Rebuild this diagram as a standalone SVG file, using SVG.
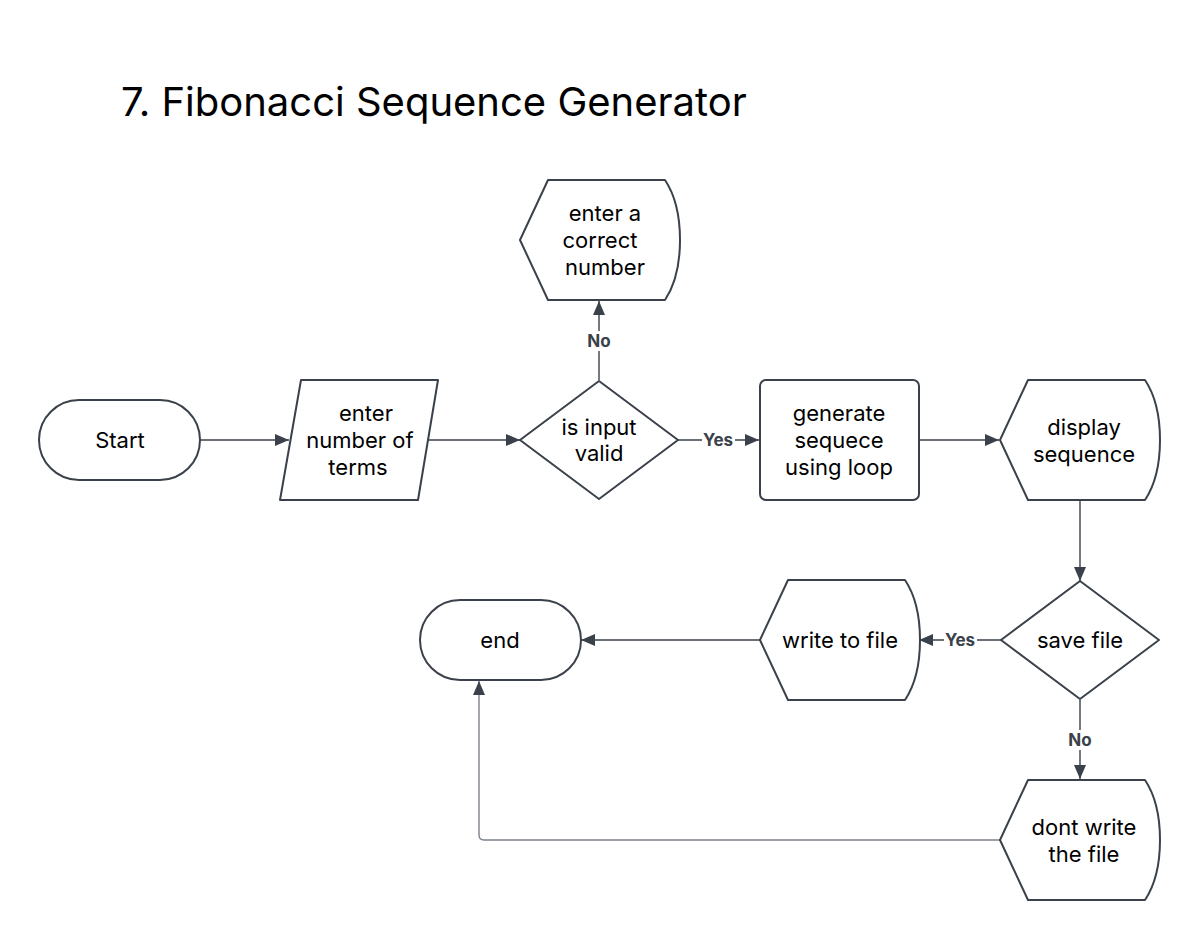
<svg xmlns="http://www.w3.org/2000/svg" width="1200" height="940" viewBox="0 0 1200 940">
<style>
.shape{fill:#fff;stroke:#3a414a;stroke-width:2;stroke-linejoin:round}
.t{font-family:Inter,"Noto Sans","Liberation Sans",sans-serif;font-size:22px;fill:#000;text-anchor:middle}
.title{font-family:Inter,"Noto Sans","Liberation Sans",sans-serif;font-size:40px;fill:#000}
.c{fill:none;stroke:#3a414a;stroke-width:1.4}
.cg{fill:none;stroke:#7c838c;stroke-width:1.4}
.lbl{font-family:Inter,"Noto Sans","Liberation Sans",sans-serif;font-size:17px;font-weight:bold;fill:#3a414a;text-anchor:middle}
.bg{fill:#fff}
</style>
<defs>
<marker id="arr" markerUnits="userSpaceOnUse" markerWidth="15" markerHeight="12" refX="14" refY="6" orient="auto">
<path d="M0,0 L14,6 L0,12 Z" fill="#3a414a"/>
</marker>
</defs>
<rect width="1200" height="940" fill="#fff"/>
<text class="title" x="121" y="116">7. Fibonacci Sequence Generator</text>

<g id="connectors">
<path class="c" d="M200,440 L289,440" marker-end="url(#arr)"/>
<path class="c" d="M428,440 L520,440" marker-end="url(#arr)"/>
<path class="c" d="M678,440 L759,440" marker-end="url(#arr)"/>
<path class="c" d="M920,440 L999,440" marker-end="url(#arr)"/>
<path class="c" d="M599,380 L599,301" marker-end="url(#arr)"/>
<path class="c" d="M1080,500 L1080,581" marker-end="url(#arr)"/>
<path class="c" d="M1001,640 L919,640" marker-end="url(#arr)"/>
<path class="c" d="M760,640 L581,640" marker-end="url(#arr)"/>
<path class="c" d="M1080,700 L1080,779" marker-end="url(#arr)"/>
<path class="cg" d="M1000,840 L484,840 Q479,840 479,835 L479,681" marker-end="url(#arr)"/>
<rect class="bg" x="702" y="430" width="33" height="20"/>
<text class="lbl" x="718" y="446">Yes</text>
<rect class="bg" x="586" y="331" width="26" height="20"/>
<text class="lbl" x="599" y="347">No</text>
<rect class="bg" x="944" y="630" width="33" height="20"/>
<text class="lbl" x="960" y="646">Yes</text>
<rect class="bg" x="1067" y="730" width="26" height="20"/>
<text class="lbl" x="1080" y="746">No</text>
</g>

<g id="start">
<rect class="shape" x="39" y="400" width="161" height="80" rx="40"/>
<text class="t" x="120" y="448">Start</text>
</g>

<g id="enter-terms">
<path class="shape" d="M301,380 L438,380 L418,500 L280,500 Z"/>
<text class="t" x="366" y="421">enter</text>
<text class="t" x="360" y="448">number of</text>
<text class="t" x="358" y="475">terms</text>
</g>

<g id="is-valid">
<path class="shape" d="M599,381 L678,440 L599,499 L520,440 Z"/>
<text class="t" x="599" y="435">is input</text>
<text class="t" x="599" y="461">valid</text>
</g>

<g id="enter-correct">
<path class="shape" d="M548,180 L665,180 C685,210 685,270 665,300 L548,300 L520,240 Z"/>
<text class="t" x="605" y="221">enter a</text>
<text class="t" x="600" y="248">correct</text>
<text class="t" x="605" y="275">number</text>
</g>

<g id="generate">
<rect class="shape" x="760" y="380" width="159" height="120" rx="6"/>
<text class="t" x="839" y="421">generate</text>
<text class="t" x="839" y="448">sequece</text>
<text class="t" x="839" y="475">using loop</text>
</g>

<g id="display">
<path class="shape" d="M1028,380 L1145,380 C1165,410 1165,470 1145,500 L1028,500 L1000,440 Z"/>
<text class="t" x="1084" y="435">display</text>
<text class="t" x="1084" y="462">sequence</text>
</g>

<g id="save-file">
<path class="shape" d="M1080,581 L1159,640 L1080,699 L1001,640 Z"/>
<text class="t" x="1080" y="648">save file</text>
</g>

<g id="write-file">
<path class="shape" d="M788,580 L905,580 C925,610 925,670 905,700 L788,700 L760,640 Z"/>
<text class="t" x="840" y="648">write to file</text>
</g>

<g id="dont-write">
<path class="shape" d="M1028,780 L1145,780 C1165,810 1165,870 1145,900 L1028,900 L1000,840 Z"/>
<text class="t" x="1084" y="835">dont write</text>
<text class="t" x="1084" y="862">the file</text>
</g>

<g id="end">
<rect class="shape" x="420" y="600" width="161" height="80" rx="40"/>
<text class="t" x="500" y="648">end</text>
</g>
</svg>
